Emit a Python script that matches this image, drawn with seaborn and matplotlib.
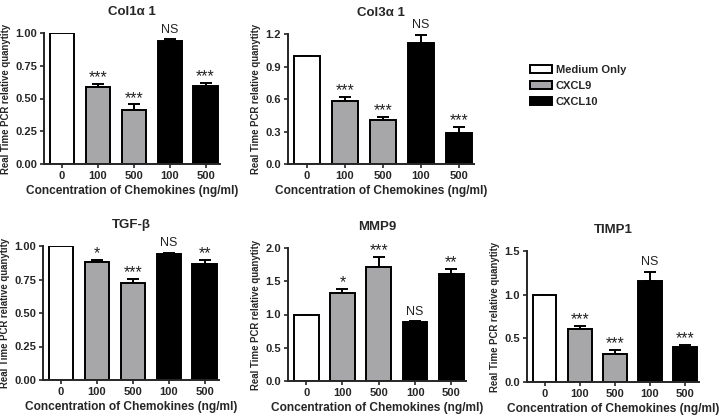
import numpy as np
import pandas as pd
import matplotlib
matplotlib.use("Agg")
import matplotlib.pyplot as plt
import seaborn as sns
from matplotlib.patches import Patch

# -------------------------------
# Data
# -------------------------------
conditions = ["Medium", "CXCL9 100", "CXCL9 500", "CXCL10 100", "CXCL10 500"]
groups = ["Medium Only", "CXCL9", "CXCL9", "CXCL10", "CXCL10"]
dose_labels = ["0", "100", "500", "100", "500"]

col1_vals = [1.00, 0.59, 0.415, 0.94, 0.595]
col1_err = [0.0, 0.02, 0.04, 0.015, 0.025]
col1_sig = ["", "***", "***", "NS", "***"]

col3_vals = [1.00, 0.585, 0.405, 1.12, 0.29]
col3_err = [0.0, 0.035, 0.03, 0.075, 0.055]
col3_sig = ["", "***", "***", "NS", "***"]

tgf_vals = [1.00, 0.88, 0.725, 0.94, 0.868]
tgf_err = [0.0, 0.015, 0.03, 0.01, 0.03]
tgf_sig = ["", "*", "***", "NS", "**"]

mmp9_vals = [1.00, 1.325, 1.71, 0.89, 1.615]
mmp9_err = [0.0, 0.065, 0.15, 0.005, 0.075]
mmp9_sig = ["", "*", "***", "NS", "**"]

timp1_vals = [1.00, 0.61, 0.318, 1.16, 0.398]
timp1_err = [0.0, 0.035, 0.045, 0.105, 0.022]
timp1_sig = ["", "***", "***", "NS", "***"]

palette = {"Medium Only": "white", "CXCL9": "#a6a6aa", "CXCL10": "black"}

sns.set_style("ticks")
plt.rcParams["font.family"] = ["Liberation Sans", "DejaVu Sans"]

fig = plt.figure(figsize=(7.19, 4.18), dpi=100)

W, H = 719, 418
def px_axes(left, right, bottom, top):
    return fig.add_axes([left / W, 1 - bottom / H, (right - left) / W, (bottom - top) / H])

panels = [
    ("Col1\u03b1 1", col1_vals, col1_err, col1_sig, (44, 220, 164, 33), 1.0, [0, 0.25, 0.5, 0.75, 1.0], "{:.2f}"),
    ("Col3\u03b1 1", col3_vals, col3_err, col3_sig, (288, 474, 164, 34), 1.2, [0, 0.3, 0.6, 0.9, 1.2], "{:.1f}"),
    ("TGF-\u03b2", tgf_vals, tgf_err, tgf_sig, (43, 219, 380, 246), 1.0, [0, 0.25, 0.5, 0.75, 1.0], "{:.2f}"),
    ("MMP9", mmp9_vals, mmp9_err, mmp9_sig, (288, 466, 381, 248), 2.0, [0, 0.5, 1.0, 1.5, 2.0], "{:.1f}"),
    ("TIMP1", timp1_vals, timp1_err, timp1_sig, (527, 699, 382, 251), 1.5, [0, 0.5, 1.0, 1.5], "{:.1f}"),
]

for title, vals, errs, sigs, box, ymax, ticks, fmt in panels:
    ax = px_axes(*box)
    df = pd.DataFrame({"cond": conditions, "group": groups, "val": vals})
    sns.barplot(data=df, x="cond", y="val", hue="group", palette=palette,
                dodge=False, width=0.68, edgecolor="black", linewidth=1.4,
                legend=False, ax=ax, zorder=2)
    xs = np.arange(len(vals))
    ax.errorbar(xs, vals, yerr=[np.zeros(len(errs)), errs], fmt="none",
                ecolor="black", elinewidth=1.4, capsize=4, capthick=1.4, zorder=1)
    for x, v, e, s in zip(xs, vals, errs, sigs):
        if s == "NS":
            ax.text(x, v + e + ymax * 0.025, s, ha="center", va="bottom",
                    fontsize=9, color="#222222", clip_on=False)
        elif s:
            ax.text(x, v + e - ymax * 0.01, s, ha="center", va="bottom",
                    fontsize=11.5, color="#222222", clip_on=False)
    ax.set_xlim(-0.5, 4.4)
    ax.set_ylim(0, ymax)
    ax.set_yticks(ticks)
    ax.set_yticklabels([fmt.format(t) for t in ticks], fontsize=8, fontweight="bold")
    ax.set_xticks(xs)
    ax.set_xticklabels(dose_labels, fontsize=8, fontweight="bold")
    ax.set_xlabel("Concentration of Chemokines (ng/ml)", fontsize=8.6, fontweight="bold", labelpad=3)
    ax.set_ylabel("Real Time PCR relative quanytity", fontsize=6.9, fontweight="bold", labelpad=3)
    ax.set_title(title, fontsize=9.5, fontweight="bold", pad=13)
    for sp in ["left", "bottom"]:
        ax.spines[sp].set_linewidth(1.4)
    sns.despine(ax=ax)
    ax.tick_params(axis="both", width=1.2, length=3, pad=2)

handles = [Patch(facecolor=palette[g], edgecolor="black", linewidth=1.4) for g in ["Medium Only", "CXCL9", "CXCL10"]]
leg = fig.legend(handles, ["Medium Only", "CXCL9", "CXCL10"], loc="upper left",
                 bbox_to_anchor=(530 / W, 1 - 65 / H), frameon=False, borderpad=0,
                 borderaxespad=0, handlelength=2.0, handleheight=0.75,
                 handletextpad=0.3, labelspacing=0.55,
                 prop={"size": 8, "weight": "bold"})

fig.savefig("out.png", dpi=100)
